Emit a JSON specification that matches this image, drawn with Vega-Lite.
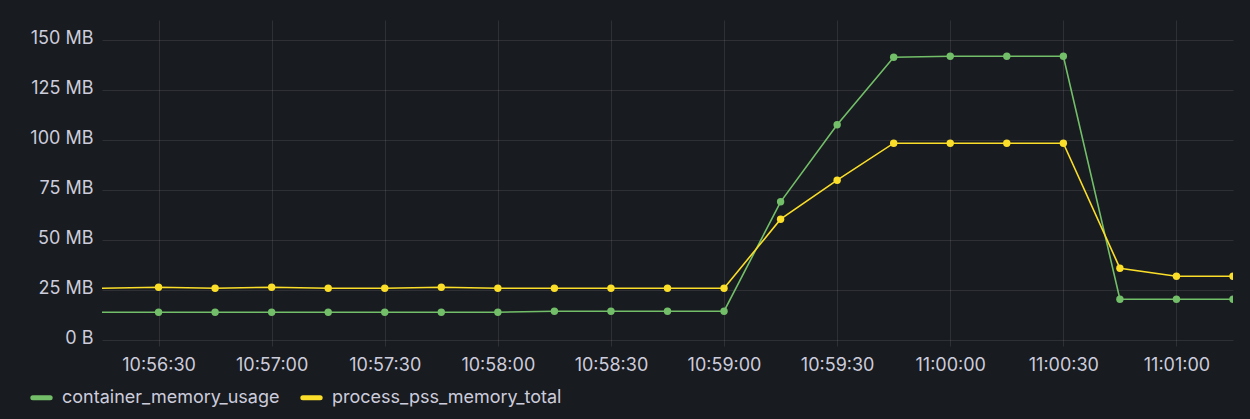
{
  "$schema": "https://vega.github.io/schema/vega-lite/v6.json",
  "width": 1131,
  "height": 320,
  "autosize": {"type": "none"},
  "padding": {"left": 102, "top": 20, "right": 17, "bottom": 79},
  "background": "#181b1f",
  "config": {
    "font": "Inter",
    "view": {"stroke": null},
    "axis": {"labelFont": "Inter", "labelFontSize": 18, "labelColor": "#ccccdc", "gridColor": "#ccccdc", "gridOpacity": 0.12, "domain": false, "title": null}
  },
  "data": {"values": [
    {"t": "2024-01-01T10:56:00", "s": "container_memory_usage", "v": 13.9},
    {"t": "2024-01-01T10:56:30", "s": "container_memory_usage", "v": 13.9},
    {"t": "2024-01-01T10:56:45", "s": "container_memory_usage", "v": 13.9},
    {"t": "2024-01-01T10:57:00", "s": "container_memory_usage", "v": 13.9},
    {"t": "2024-01-01T10:57:15", "s": "container_memory_usage", "v": 13.9},
    {"t": "2024-01-01T10:57:30", "s": "container_memory_usage", "v": 13.9},
    {"t": "2024-01-01T10:57:45", "s": "container_memory_usage", "v": 13.9},
    {"t": "2024-01-01T10:58:00", "s": "container_memory_usage", "v": 13.9},
    {"t": "2024-01-01T10:58:15", "s": "container_memory_usage", "v": 14.4},
    {"t": "2024-01-01T10:58:30", "s": "container_memory_usage", "v": 14.4},
    {"t": "2024-01-01T10:58:45", "s": "container_memory_usage", "v": 14.4},
    {"t": "2024-01-01T10:59:00", "s": "container_memory_usage", "v": 14.4},
    {"t": "2024-01-01T10:59:15", "s": "container_memory_usage", "v": 69.1},
    {"t": "2024-01-01T10:59:30", "s": "container_memory_usage", "v": 107.6},
    {"t": "2024-01-01T10:59:45", "s": "container_memory_usage", "v": 141.4},
    {"t": "2024-01-01T11:00:00", "s": "container_memory_usage", "v": 141.9},
    {"t": "2024-01-01T11:00:15", "s": "container_memory_usage", "v": 141.9},
    {"t": "2024-01-01T11:00:30", "s": "container_memory_usage", "v": 141.9},
    {"t": "2024-01-01T11:00:45", "s": "container_memory_usage", "v": 20.4},
    {"t": "2024-01-01T11:01:00", "s": "container_memory_usage", "v": 20.4},
    {"t": "2024-01-01T11:01:15", "s": "container_memory_usage", "v": 20.4},
    {"t": "2024-01-01T10:56:00", "s": "process_pss_memory_total", "v": 25.4},
    {"t": "2024-01-01T10:56:30", "s": "process_pss_memory_total", "v": 26.4},
    {"t": "2024-01-01T10:56:45", "s": "process_pss_memory_total", "v": 25.9},
    {"t": "2024-01-01T10:57:00", "s": "process_pss_memory_total", "v": 26.4},
    {"t": "2024-01-01T10:57:15", "s": "process_pss_memory_total", "v": 25.9},
    {"t": "2024-01-01T10:57:30", "s": "process_pss_memory_total", "v": 25.9},
    {"t": "2024-01-01T10:57:45", "s": "process_pss_memory_total", "v": 26.4},
    {"t": "2024-01-01T10:58:00", "s": "process_pss_memory_total", "v": 25.9},
    {"t": "2024-01-01T10:58:15", "s": "process_pss_memory_total", "v": 25.9},
    {"t": "2024-01-01T10:58:30", "s": "process_pss_memory_total", "v": 25.9},
    {"t": "2024-01-01T10:58:45", "s": "process_pss_memory_total", "v": 25.9},
    {"t": "2024-01-01T10:59:00", "s": "process_pss_memory_total", "v": 25.9},
    {"t": "2024-01-01T10:59:15", "s": "process_pss_memory_total", "v": 60.4},
    {"t": "2024-01-01T10:59:30", "s": "process_pss_memory_total", "v": 79.9},
    {"t": "2024-01-01T10:59:45", "s": "process_pss_memory_total", "v": 98.4},
    {"t": "2024-01-01T11:00:00", "s": "process_pss_memory_total", "v": 98.4},
    {"t": "2024-01-01T11:00:15", "s": "process_pss_memory_total", "v": 98.4},
    {"t": "2024-01-01T11:00:30", "s": "process_pss_memory_total", "v": 98.4},
    {"t": "2024-01-01T11:00:45", "s": "process_pss_memory_total", "v": 35.9},
    {"t": "2024-01-01T11:01:00", "s": "process_pss_memory_total", "v": 31.9},
    {"t": "2024-01-01T11:01:15", "s": "process_pss_memory_total", "v": 31.9}
  ]},
  "encoding": {
    "x": {
      "field": "t", "type": "temporal",
      "scale": {"domain": [{"year": 2024, "month": 1, "date": 1, "hours": 10, "minutes": 56, "seconds": 15}, {"year": 2024, "month": 1, "date": 1, "hours": 11, "minutes": 1, "seconds": 15}]},
      "axis": {"format": "%H:%M:%S", "tickCount": 10, "ticks": true, "tickColor": "#ccccdc", "tickOpacity": 0.12, "tickSize": 6, "labelPadding": 10, "labelFlush": false}
    },
    "y": {
      "field": "v", "type": "quantitative",
      "scale": {"domain": [0, 160], "nice": false},
      "axis": {"values": [0, 25, 50, 75, 100, 125, 150], "ticks": false, "labelPadding": 9, "labelOffset": -2, "labelExpr": "datum.value == 0 ? '0 B' : datum.value + ' MB'"}
    },
    "color": {
      "field": "s", "type": "nominal",
      "scale": {"domain": ["container_memory_usage", "process_pss_memory_total"], "range": ["#73bf69", "#fade2a"]},
      "legend": {
        "title": null, "orient": "none", "direction": "horizontal", "legendX": -72, "legendY": 366,
        "symbolType": "stroke", "symbolSize": 300, "symbolStrokeWidth": 5, "symbolOpacity": 1,
        "labelFont": "Inter", "labelFontSize": 18, "labelColor": "#ccccdc", "labelOffset": 9, "labelLimit": 500, "columnPadding": 12,
        "encode": {"symbols": {"update": {"strokeCap": {"value": "round"}, "strokeWidth": {"value": 5}}}}
      }
    }
  },
  "layer": [
    {"mark": {"type": "line", "strokeWidth": 1.6, "clip": true}},
    {"mark": {"type": "point", "filled": true, "size": 55, "opacity": 1, "clip": true}}
  ]
}
